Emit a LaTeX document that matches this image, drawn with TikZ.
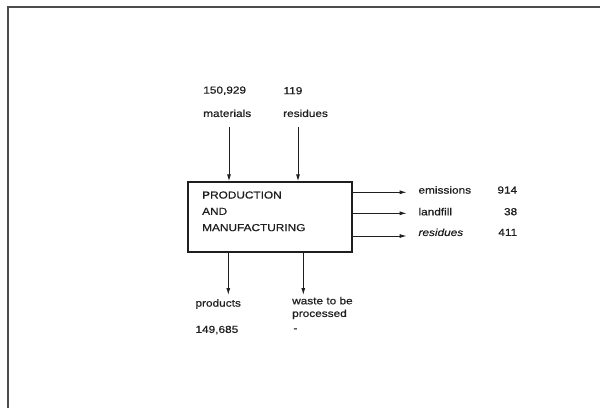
\documentclass[tikz,border=0pt]{standalone}
\usepackage{fontspec}
\setmainfont{Liberation Sans}[FakeStretch=1.16, FakeBold=0.6]
\usetikzlibrary{arrows.meta,positioning}

\begin{document}
\begin{tikzpicture}[
    x=1pt, y=-1pt,
    >={Latex[length=7pt,width=4pt]},
    line width=1pt,
    color=black!88,
    process/.style={rectangle, draw, line width=1.2pt, minimum width=164pt, minimum height=70pt, inner sep=0pt},
    flow/.style={font=\fontsize{10.2}{12.6}\selectfont, align=left, inner sep=0pt, anchor=west},
    amount/.style={font=\fontsize{10.2}{12}\selectfont, inner sep=0pt, anchor=east},
    title/.style={font=\fontsize{10.2}{16.3}\selectfont, align=left, inner sep=0pt, anchor=west}
]
    \useasboundingbox (0,0) rectangle (600,408);
    \fill[white] (0,0) rectangle (600,408);
    % frame of the page
    \draw[line width=1.5pt, black!70] (8,408) -- (8,7) -- (600,7);

    % process box
    \node[process] (box) at (270,217) {};
    \node[title] (name) at (201.7,211.3) {PRODUCTION\\AND\\MANUFACTURING};

    % inputs
    \node[flow] (matqty) at (202.8,90.7) {150,929};
    \node[flow] (resqty) at (283,90.7) {119};
    \node[flow] (materials) at (202.7,113.3) {materials};
    \node[flow] (resin) at (282.7,113.3) {residues};
    \coordinate (in1) at (229,127);
    \coordinate (in2) at (298,127);
    \draw[->] (in1) -- (in1 |- box.north);
    \draw[->] (in2) -- (in2 |- box.north);

    % outputs to the right
    \node[flow] (emissions) at (418,190) {emissions};
    \node[flow] (landfill) at (418,211.7) {landfill};
    \node[flow] (resout) at (418,232.3) {\itshape residues};
    \node[amount] (emqty) at (517.7,190) {914};
    \node[amount] (lfqty) at (517.7,211.7) {38};
    \node[amount] (roqty) at (517.7,232.3) {411};
    \coordinate (out1) at (406.7,192.3);
    \coordinate (out2) at (406.7,213.3);
    \coordinate (out3) at (406.7,236);
    \draw[->] (box.east |- out1) -- (out1);
    \draw[->] (box.east |- out2) -- (out2);
    \draw[->] (box.east |- out3) -- (out3);

    % outputs below
    \coordinate (down1) at (228.3,295);
    \coordinate (down2) at (303.3,295);
    \draw[->] (box.south -| down1) -- (down1);
    \draw[->] (box.south -| down2) -- (down2);
    \node[flow] (products) at (195,304) {products};
    \node[flow] (prodqty) at (195,330) {149,685};
    \node[flow] (waste) at (291.7,308) {waste to be\\processed};
    \node[flow] (wasteqty) at (293,330) {-};
\end{tikzpicture}
\end{document}
